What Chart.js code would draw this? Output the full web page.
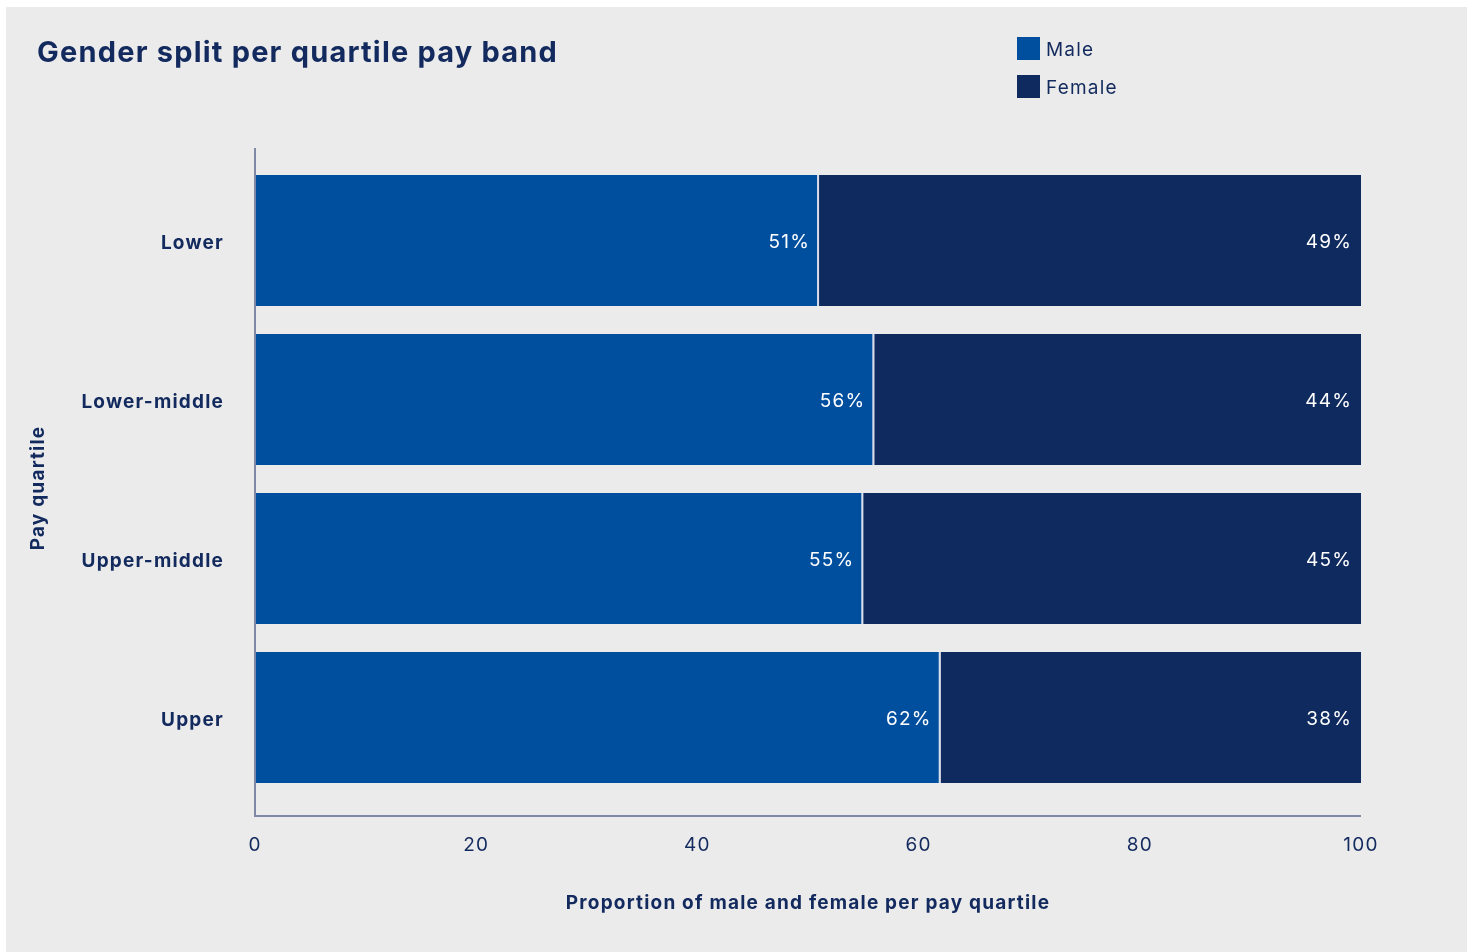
<!DOCTYPE html>
<html>
<head>
<meta charset="utf-8">
<script src="https://cdn.jsdelivr.net/npm/chart.js@4.4.1/dist/chart.umd.min.js"></script>
<style>
  html, body { margin: 0; padding: 0; background: #ffffff; }
  #panel { position: absolute; left: 6px; top: 7px; width: 1461px; height: 945px; background: #ebebeb; }
  #chart { display: block; }
</style>
</head>
<body>
<div id="panel"><canvas id="chart" width="1461" height="945"></canvas></div>
<script>
// Pay quartile categories and the share of each gender in them (%)
const quartiles = ['Lower', 'Lower-middle', 'Upper-middle', 'Upper'];
const maleShare = [51, 56, 55, 62];
const femaleShare = [49, 44, 45, 38];
const xTicks = [0, 20, 40, 60, 80, 100];

const NAVY = '#132a5e';
const FONT = 'Inter, "Noto Sans", sans-serif';
const SPACING = '1.2px';

// Slightly open letter spacing for every text drawn on the canvas
const spacing = {
  id: 'spacing',
  beforeUpdate(chart) { chart.ctx.letterSpacing = SPACING; },
  beforeDraw(chart) { chart.ctx.letterSpacing = SPACING; }
};

// Axis lines, title, legend, y-axis title and value labels
const decorations = {
  id: 'decorations',
  afterDatasetsDraw(chart) {
    const { ctx, chartArea } = chart;
    ctx.save();
    ctx.letterSpacing = SPACING;
    // axis lines
    ctx.strokeStyle = '#7f89a5';
    ctx.lineWidth = 2;
    ctx.beginPath();
    ctx.moveTo(chartArea.left, chartArea.top - 13);
    ctx.lineTo(chartArea.left, chartArea.bottom + 19);
    ctx.lineTo(chartArea.right, chartArea.bottom + 19);
    ctx.stroke();

    // value labels at the end of each segment
    ctx.fillStyle = '#ffffff';
    ctx.font = '19px ' + FONT;
    ctx.textAlign = 'right';
    ctx.textBaseline = 'middle';
    chart.data.datasets.forEach((ds, di) => {
      chart.getDatasetMeta(di).data.forEach((bar, i) => {
        ctx.fillText(ds.data[i] + '%', bar.x - 9, bar.y + 2);
      });
    });

    // title
    ctx.fillStyle = NAVY;
    ctx.textAlign = 'left';
    ctx.font = '700 29px ' + FONT;
    ctx.fillText('Gender split per quartile pay band', 31, 46);

    // legend
    ctx.font = '19px ' + FONT;
    chart.data.datasets.forEach((ds, di) => {
      const y = 30 + di * 38;
      ctx.fillStyle = ds.backgroundColor;
      ctx.fillRect(1011, y, 23, 23);
      ctx.fillStyle = NAVY;
      ctx.fillText(ds.label, 1040, y + 13);
    });

    // y-axis title, rotated
    ctx.save();
    ctx.translate(32, 481);
    ctx.rotate(-Math.PI / 2);
    ctx.textAlign = 'center';
    ctx.font = '700 19px ' + FONT;
    ctx.fillText('Pay quartile', 0, 0);
    ctx.restore();

    ctx.restore();
  }
};

new Chart(document.getElementById('chart'), {
  type: 'bar',
  data: {
    labels: quartiles,
    datasets: [
      {
        label: 'Male',
        data: maleShare,
        backgroundColor: '#004f9f',
        borderColor: '#d9dfea',
        borderWidth: { top: 0, bottom: 0, left: 0, right: 2 },
        borderSkipped: false,
        categoryPercentage: 1,
        barPercentage: 131 / 159
      },
      {
        label: 'Female',
        data: femaleShare,
        backgroundColor: '#0f2a5f',
        borderWidth: 0,
        categoryPercentage: 1,
        barPercentage: 131 / 159
      }
    ]
  },
  options: {
    indexAxis: 'y',
    responsive: false,
    animation: false,
    layout: { padding: { top: 154, right: 106, left: 0, bottom: 0 } },
    plugins: {
      legend: { display: false },
      title: { display: false },
      tooltip: { enabled: false }
    },
    scales: {
      x: {
        stacked: true,
        min: 0,
        max: 100,
        afterBuildTicks(scale) { scale.ticks = xTicks.map(v => ({ value: v })); },
        afterFit(scale) { scale.height = 155; },
        grid: { display: false, drawTicks: false },
        border: { display: false },
        ticks: { color: NAVY, font: { family: FONT, size: 19 }, padding: 37 },
        title: {
          display: true,
          text: 'Proportion of male and female per pay quartile',
          color: NAVY,
          font: { family: FONT, size: 19, weight: '700' },
          padding: { top: 0, bottom: 37 }
        }
      },
      y: {
        stacked: true,
        afterFit(scale) { scale.width = 249; },
        grid: { display: false, drawTicks: false },
        border: { display: false },
        ticks: { color: NAVY, font: { family: FONT, size: 19, weight: '700' }, padding: 31, labelOffset: 3 }
      }
    }
  },
  plugins: [spacing, decorations]
});
</script>
</body>
</html>
